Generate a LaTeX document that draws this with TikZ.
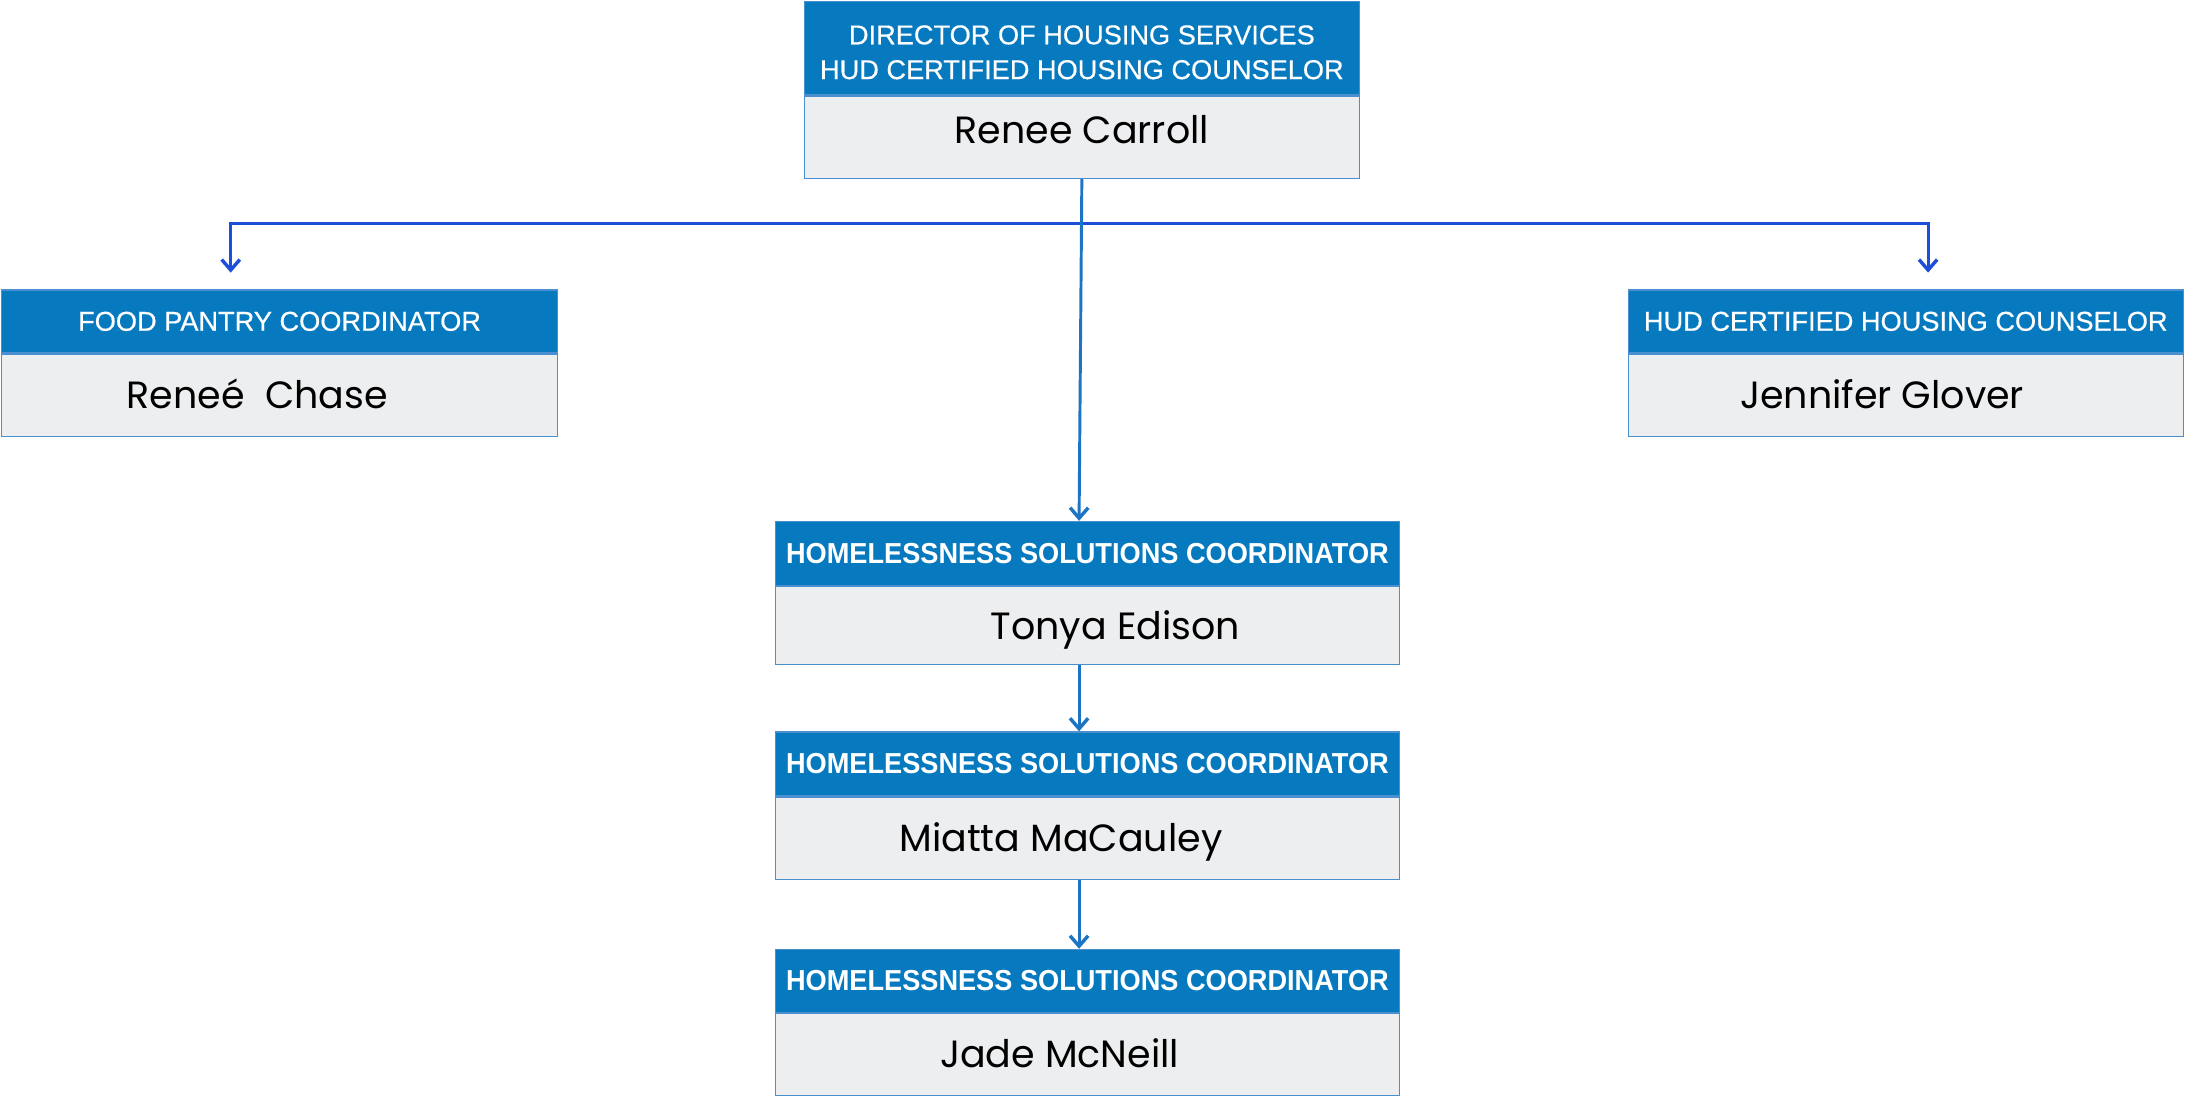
\documentclass[tikz,border=0pt]{standalone}
\usepackage{fontspec}
\setmainfont{Liberation Sans}
\newfontfamily\namefont{Poppins}
\newfontfamily\hdrfont[FakeBold=0.5]{Liberation Sans}
\newfontfamily\hscfont[FakeStretch=0.94]{Liberation Sans}
\usetikzlibrary{positioning,arrows.meta}
\definecolor{hdrblue}{HTML}{077ABF}
\definecolor{namegray}{HTML}{EDEEF0}
\definecolor{edgeblue}{HTML}{4A90D0}
\definecolor{linkblue}{HTML}{1B74C4}
\definecolor{branchblue}{HTML}{1D4ED8}

\begin{document}
\begin{tikzpicture}[x=0.02cm,y=-0.02cm,
  hdr/.style={draw=edgeblue,fill=hdrblue,text=white,line width=0.5pt,inner sep=0pt,align=center,font=\hdrfont\fontsize{11.1}{14.2}\selectfont},
  hschdr/.style={hdr,font=\hscfont\bfseries\fontsize{11.8}{14}\selectfont},
  namebox/.style={draw=edgeblue,fill=namegray,line width=0.5pt,inner sep=0pt},
  nametxt/.style={font=\namefont\fontsize{15.5}{18}\selectfont,inner sep=0pt,text height=11pt,text depth=0pt},
  link/.style={linkblue,line width=1.2pt,-{Straight Barb[length=0.15cm,width=0.26cm,line width=1.4pt]}},
  branch/.style={link,branchblue}]
\useasboundingbox (0,0) rectangle (1568,787);
\node[hdr,minimum width=7.96cm,minimum height=1.34cm] (dirhdr) at (776,34.5) {\rule{0pt}{11.2pt}DIRECTOR OF HOUSING SERVICES\\HUD CERTIFIED HOUSING COUNSELOR};
\node[namebox,minimum width=7.96cm,minimum height=1.18cm,below=0pt of dirhdr] (dirbox) {};
\node[nametxt] (dirname) at ([yshift=0.1cm]dirbox.center) {Renee Carroll};
\node[hdr,minimum width=7.98cm,minimum height=0.9cm] (fpchdr) at (200.5,230.5) {FOOD PANTRY COORDINATOR};
\node[namebox,minimum width=7.98cm,minimum height=1.18cm,below=0pt of fpchdr] (fpcbox) {};
\node[nametxt] (fpcname) at ([xshift=-0.32cm]fpcbox.center) {Rene\'e\ \ Chase};
\node[hdr,minimum width=7.96cm,minimum height=0.9cm] (hudhdr) at (1367,230.5) {HUD CERTIFIED HOUSING COUNSELOR};
\node[namebox,minimum width=7.96cm,minimum height=1.18cm,below=0pt of hudhdr] (hudbox) {};
\node[nametxt] (hudname) at ([xshift=-0.34cm]hudbox.center) {Jennifer Glover};
\node[hschdr,minimum width=8.96cm,minimum height=0.92cm] (hsc1hdr) at (780,397) {HOMELESSNESS SOLUTIONS COORDINATOR};
\node[namebox,minimum width=8.96cm,minimum height=1.12cm,below=0pt of hsc1hdr] (hsc1box) {};
\node[nametxt] (hsc1name) at ([xshift=0.4cm]hsc1box.center) {Tonya Edison};
\node[hschdr,minimum width=8.96cm,minimum height=0.92cm] (hsc2hdr) at (780,548) {HOMELESSNESS SOLUTIONS COORDINATOR};
\node[namebox,minimum width=8.96cm,minimum height=1.18cm,below=0pt of hsc2hdr] (hsc2box) {};
\node[nametxt] (hsc2name) at ([xshift=-0.38cm]hsc2box.center) {Miatta MaCauley};
\node[hschdr,minimum width=8.96cm,minimum height=0.9cm] (hsc3hdr) at (780,703.5) {HOMELESSNESS SOLUTIONS COORDINATOR};
\node[namebox,minimum width=8.96cm,minimum height=1.18cm,below=0pt of hsc3hdr] (hsc3box) {};
\node[nametxt] (hsc3name) at ([xshift=-0.4cm]hsc3box.center) {Jade McNeill};
\coordinate (split) at (dirbox.south |- 0,160);
\coordinate (fpctip) at ([xshift=-0.7cm,yshift=0.24cm]fpchdr.north);
\coordinate (hudtip) at ([xshift=0.32cm,yshift=0.24cm]hudhdr.north);
\draw[branch] (split) -| (fpctip);
\draw[branch] (split) -| (hudtip);
\draw[link] (dirbox.south) -- ([xshift=-0.12cm]hsc1hdr.north);
\draw[link] ([xshift=-0.12cm]hsc1box.south) -- ([xshift=-0.12cm]hsc2hdr.north);
\draw[link] ([xshift=-0.12cm]hsc2box.south) -- ([xshift=-0.12cm]hsc3hdr.north);
\end{tikzpicture}
\end{document}
